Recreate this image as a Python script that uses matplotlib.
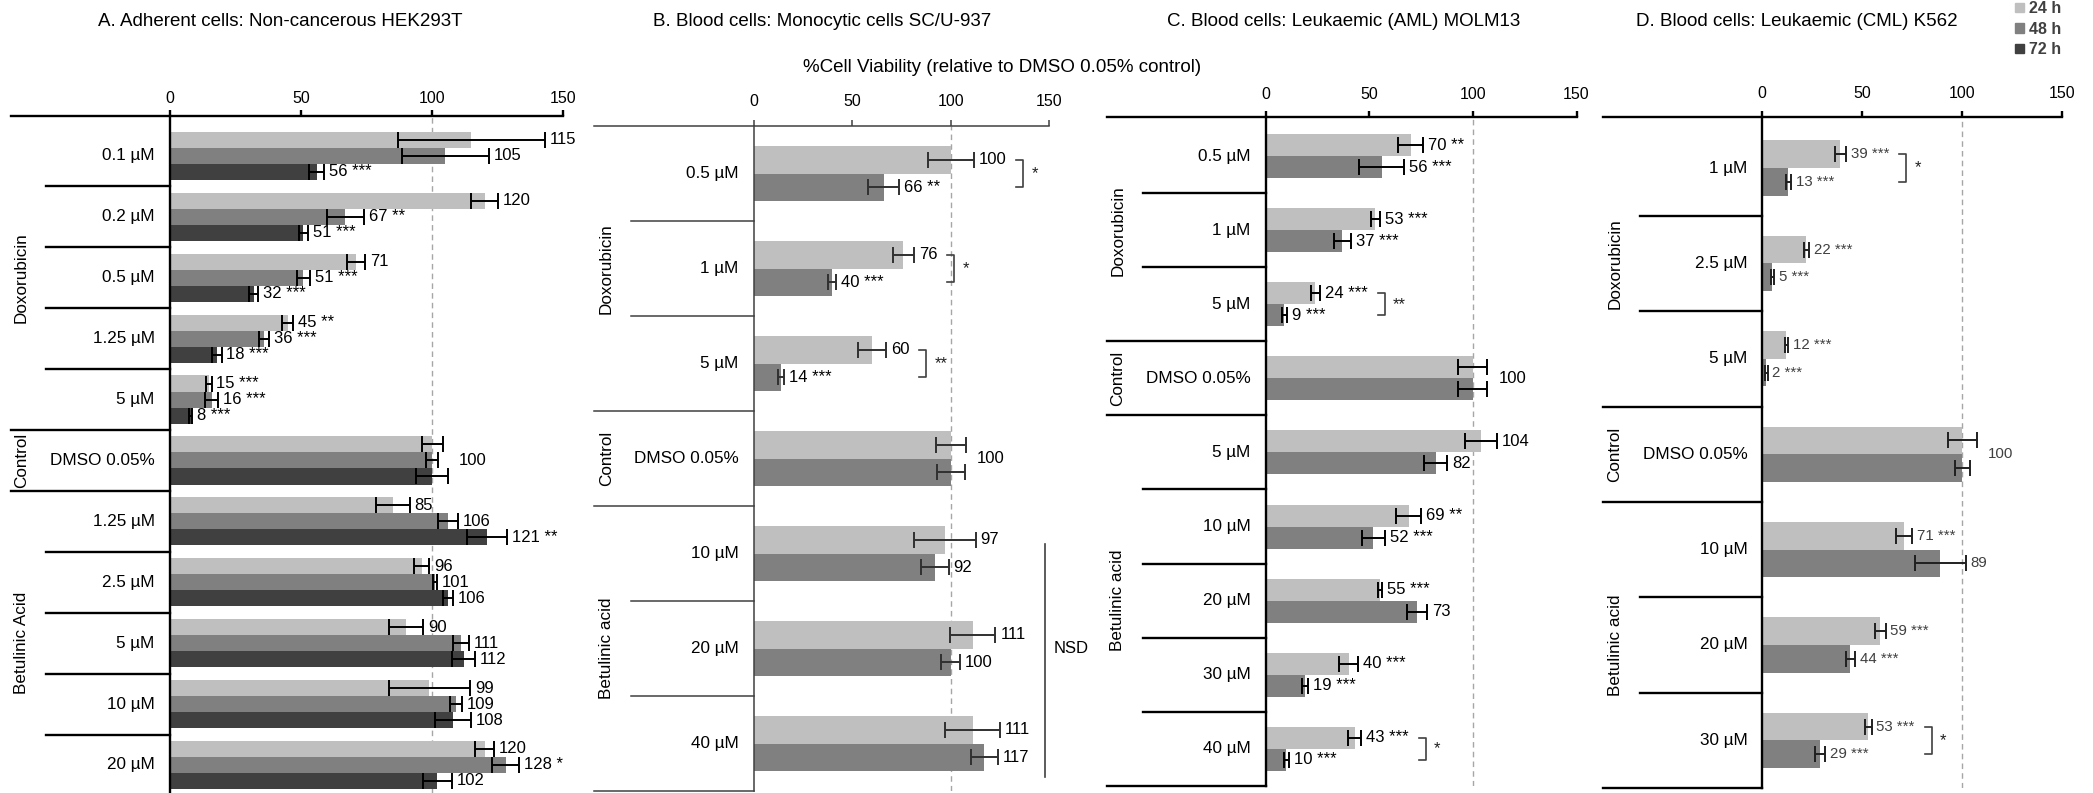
import matplotlib
matplotlib.use('Agg')
import matplotlib.pyplot as plt
from matplotlib.patches import Patch

plt.rcParams['font.family'] = ['Liberation Sans', 'DejaVu Sans']

W, H, DPI = 2093, 793, 100

hours = ['24 h', '48 h', '72 h']
shades = ['#BFBFBF', '#808080', '#404040']
xlabel = '%Cell Viability (relative to DMSO 0.05% control)'

# A. HEK293T (three time points)
a_cats = ['0.1 µM', '0.2 µM', '0.5 µM', '1.25 µM', '5 µM', 'DMSO 0.05%',
          '1.25 µM', '2.5 µM', '5 µM', '10 µM', '20 µM']
a_groups = [('Doxorubicin', 5), ('Control', 1), ('Betulinic Acid', 5)]
a_24 = [115, 120, 71, 45, 15, 100, 85, 96, 90, 99, 120]
a_24_err = [28, 5, 3.5, 2, 1, 4, 6.5, 3, 6.5, 15.5, 3.5]
a_24_sig = ['', '', '', '**', '***', '', '', '', '', '', '']
a_48 = [105, 67, 51, 36, 16, 100, 106, 101, 111, 109, 128]
a_48_err = [16.5, 7, 2.6, 2, 2.4, 2.4, 3.7, 0.7, 3, 2.2, 5]
a_48_sig = ['', '**', '***', '***', '***', '', '', '', '', '', '*']
a_72 = [56, 51, 32, 18, 8, 100, 121, 106, 112, 108, 102]
a_72_err = [3, 1.7, 1.8, 1.8, 0.7, 6, 7.6, 2, 4.4, 6.8, 5.5]
a_72_sig = ['***', '***', '***', '***', '***', '', '**', '', '', '', '']

# B. SC/U-937
b_cats = ['0.5 µM', '1 µM', '5 µM', 'DMSO 0.05%', '10 µM', '20 µM', '40 µM']
b_groups = [('Doxorubicin', 3), ('Control', 1), ('Betulinic acid', 3)]
b_24 = [100, 76, 60, 100, 97, 111, 111]
b_24_err = [11.7, 5.4, 7.2, 7.6, 15.7, 11.6, 14]
b_24_sig = ['', '', '', '', '', '', '']
b_48 = [66, 40, 14, 100, 92, 100, 117]
b_48_err = [7.8, 2, 1.6, 7.2, 6.9, 4.8, 6.8]
b_48_sig = ['**', '***', '***', '', '', '', '']
b_brackets = [(0, '*'), (1, '*'), (2, '**')]
b_nsd = (4, 6)

# C. MOLM13
c_cats = ['0.5 µM', '1 µM', '5 µM', 'DMSO 0.05%', '5 µM', '10 µM', '20 µM', '30 µM', '40 µM']
c_groups = [('Doxorubicin', 3), ('Control', 1), ('Betulinic acid', 5)]
c_24 = [70, 53, 24, 100, 104, 69, 55, 40, 43]
c_24_err = [6, 2.3, 2.2, 7, 7.6, 6.2, 1, 4.4, 3.2]
c_24_sig = ['**', '***', '***', '', '', '**', '***', '***', '***']
c_48 = [56, 37, 9, 100, 82, 52, 73, 19, 10]
c_48_err = [11, 4.2, 1.3, 7, 5.6, 5.6, 4.8, 1.4, 1.2]
c_48_sig = ['***', '***', '***', '', '', '***', '', '***', '***']
c_brackets = [(2, '**'), (8, '*')]

# D. K562
d_cats = ['1 µM', '2.5 µM', '5 µM', 'DMSO 0.05%', '10 µM', '20 µM', '30 µM']
d_groups = [('Doxorubicin', 3), ('Control', 1), ('Betulinic acid', 3)]
d_24 = [39, 22, 12, 100, 71, 59, 53]
d_24_err = [2.9, 1.2, 0.7, 7.2, 4, 2.6, 1.6]
d_24_sig = ['***', '***', '***', '', '***', '***', '***']
d_48 = [13, 5, 2, 100, 89, 44, 29]
d_48_err = [1.2, 0.7, 0.6, 3.9, 12.6, 2.3, 2.5]
d_48_sig = ['***', '***', '***', '', '', '***', '***']
d_brackets = [(0, '*'), (6, '*')]

fig = plt.figure(figsize=(W / DPI, H / DPI), dpi=DPI)
fig.patch.set_facecolor('white')


def draw_panel(lay, title, cats, groups, vals, errs, sigs, brackets=(), nsd=None):
    n = len(cats)
    x0, ppu, rh = lay['x0'], lay['ppu'], lay['row_h']
    right = x0 + 150 * ppu
    bottom = lay['row_top'] + n * rh
    ax = fig.add_axes([lay['left'] / W, 1 - bottom / H,
                       (right - lay['left']) / W, (bottom - lay['axis_y']) / H])
    ax.set_xlim(-(x0 - lay['left']) / ppu, 150)
    ax.set_ylim(n - 0.5, -0.5 - (lay['row_top'] - lay['axis_y']) / rh)
    ax.patch.set_alpha(0)
    for s in ['left', 'right', 'bottom']:
        ax.spines[s].set_visible(False)
    ax.spines['top'].set_linewidth(lay['lw'])
    ax.spines['top'].set_color(lay['line'])
    ax.set_xticks([0, 50, 100, 150])
    ax.set_yticks([])
    ax.tick_params(axis='x', top=True, bottom=False, labeltop=True, labelbottom=False,
                   direction='out', length=4, width=lay['lw'], color=lay['line'],
                   labelsize=11.5, pad=lay['pad'])

    lw = lay['lw']
    ax.axvline(100, color='#A6A6A6', lw=1, ls=(0, (4, 3)), zorder=1)
    ax.plot([0, 0], [n - 0.5, ax.get_ylim()[1]], color=lay['line'], lw=lw, zorder=4, clip_on=False)

    # category / group axis
    xl = ax.get_xlim()[0]
    xin = -(x0 - lay['inner']) / ppu
    start = 0
    for gname, cnt in groups:
        for j in range(cnt):
            b = start + j + 0.5
            xs = xl if j == cnt - 1 else xin
            ax.plot([xs, 0], [b, b], color=lay['line'], lw=lw, clip_on=False)
        ax.text(-(x0 - lay['group_x']) / ppu, start + (cnt - 1) / 2, gname, rotation=90,
                ha='center', va='center', fontsize=12.3)
        start += cnt
    for i, c in enumerate(cats):
        ax.text(-15 / ppu, i, c, ha='right', va='center', fontsize=12.3)

    ns = len(vals)
    bw = lay['bar'] / ns
    offs = [(k - (ns - 1) / 2) * bw for k in range(ns)]
    row_texts = [[] for _ in range(n)]
    ctrl = groups[0][1]
    for k in range(ns):
        ys = [i + offs[k] for i in range(n)]
        ax.barh(ys, vals[k], height=bw, color=shades[k], zorder=2)
        ax.errorbar(vals[k], ys, xerr=errs[k], fmt='none', ecolor=lay['ecol'],
                    elinewidth=1.4, capsize=5.5, capthick=1.4, zorder=3)
        for i in range(n):
            if i == ctrl:
                continue
            txt = str(vals[k][i]) + (' ' + sigs[k][i] if sigs[k][i] else '')
            t = ax.annotate(txt, (vals[k][i] + errs[k][i], ys[i]), xytext=(3.5, 0),
                            textcoords='offset points', ha='left', va='center',
                            fontsize=lay['fs'], color=lay['tcol'], zorder=5)
            row_texts[i].append(t)
    top_ctrl = max(vals[k][ctrl] + errs[k][ctrl] for k in range(ns))
    ax.annotate(str(vals[0][ctrl]), (top_ctrl, ctrl), xytext=(8, 0), textcoords='offset points',
                ha='left', va='center', fontsize=lay['fs'], color=lay['tcol'])

    fig.text(lay['title_x'] / W, 1 - 22 / H, title, ha='center', va='center', fontsize=13.5)

    fig.canvas.draw()
    rend = fig.canvas.get_renderer()
    inv = ax.transData.inverted()

    def right_edge(rows):
        px = max(t.get_window_extent(rend).x1 for r in rows for t in row_texts[r])
        return inv.transform((px, 0))[0]

    for i, star in brackets:
        bx = right_edge([i]) + 10 / ppu
        w = 7 / ppu
        y1, y2 = i + offs[0], i + offs[1]
        ax.plot([bx, bx + w, bx + w, bx], [y1, y1, y2, y2], color='#404040', lw=1.2,
                clip_on=False)
        ax.text(bx + w + 8 / ppu, (y1 + y2) / 2, star, ha='left', va='center',
                fontsize=12, color='#202020')
    if nsd:
        r0, r1 = nsd
        nx = right_edge(range(r0, r1 + 1)) + 15 / ppu
        ax.plot([nx, nx], [r0 - 0.1, r1 + 0.35], color='#404040', lw=1.2, clip_on=False)
        ax.text(nx + 8 / ppu, (r0 + r1) / 2, 'NSD', ha='left', va='center', fontsize=12)
    return ax


lay_a = dict(left=10.7, x0=169.6, ppu=2.625, axis_y=116, row_top=125.5, row_h=60.9,
             inner=46.4, group_x=21.4, bar=0.79, lw=1.7, line='black', ecol='black',
             fs=12, tcol='black', pad=3, title_x=280)
lay_b = dict(left=594.4, x0=753.5, ppu=1.973, axis_y=126, row_top=126, row_h=95,
             inner=630.6, group_x=606.5, bar=0.58, lw=1.1, line='#404040', ecol='#303030',
             fs=12, tcol='black', pad=8, title_x=822)
lay_c = dict(left=1107.2, x0=1265.6, ppu=2.073, axis_y=117.3, row_top=119, row_h=74.1,
             inner=1143.4, group_x=1118, bar=0.595, lw=1.7, line='black', ecol='black',
             fs=12, tcol='black', pad=7, title_x=1344)
lay_d = dict(left=1603, x0=1762.3, ppu=2.0, axis_y=116.7, row_top=120.3, row_h=95.4,
             inner=1640, group_x=1615, bar=0.577, lw=1.7, line='black', ecol='#202020',
             fs=10.8, tcol='#404040', pad=7, title_x=1797)

draw_panel(lay_a, 'A. Adherent cells: Non-cancerous HEK293T', a_cats, a_groups,
           [a_24, a_48, a_72], [a_24_err, a_48_err, a_72_err], [a_24_sig, a_48_sig, a_72_sig])
draw_panel(lay_b, 'B. Blood cells: Monocytic cells SC/U-937', b_cats, b_groups,
           [b_24, b_48], [b_24_err, b_48_err], [b_24_sig, b_48_sig], b_brackets, b_nsd)
draw_panel(lay_c, 'C. Blood cells: Leukaemic (AML) MOLM13', c_cats, c_groups,
           [c_24, c_48], [c_24_err, c_48_err], [c_24_sig, c_48_sig], c_brackets)
draw_panel(lay_d, 'D. Blood cells: Leukaemic (CML) K562', d_cats, d_groups,
           [d_24, d_48], [d_24_err, d_48_err], [d_24_sig, d_48_sig], d_brackets)

fig.text(1002 / W, 1 - 68 / H, xlabel, ha='center', va='center', fontsize=13.5)

handles = [Patch(color=c) for c in shades]
fig.legend(handles, hours, loc='upper left', bbox_to_anchor=(2015 / W, 1 - 1 / H),
           frameon=False, handlelength=0.55, handleheight=0.55, handletextpad=0.3,
           labelspacing=0.35, borderpad=0, borderaxespad=0,
           prop={'weight': 'bold', 'size': 11.5}, labelcolor='#404040')

fig.savefig('out.png', dpi=DPI, facecolor='white')
